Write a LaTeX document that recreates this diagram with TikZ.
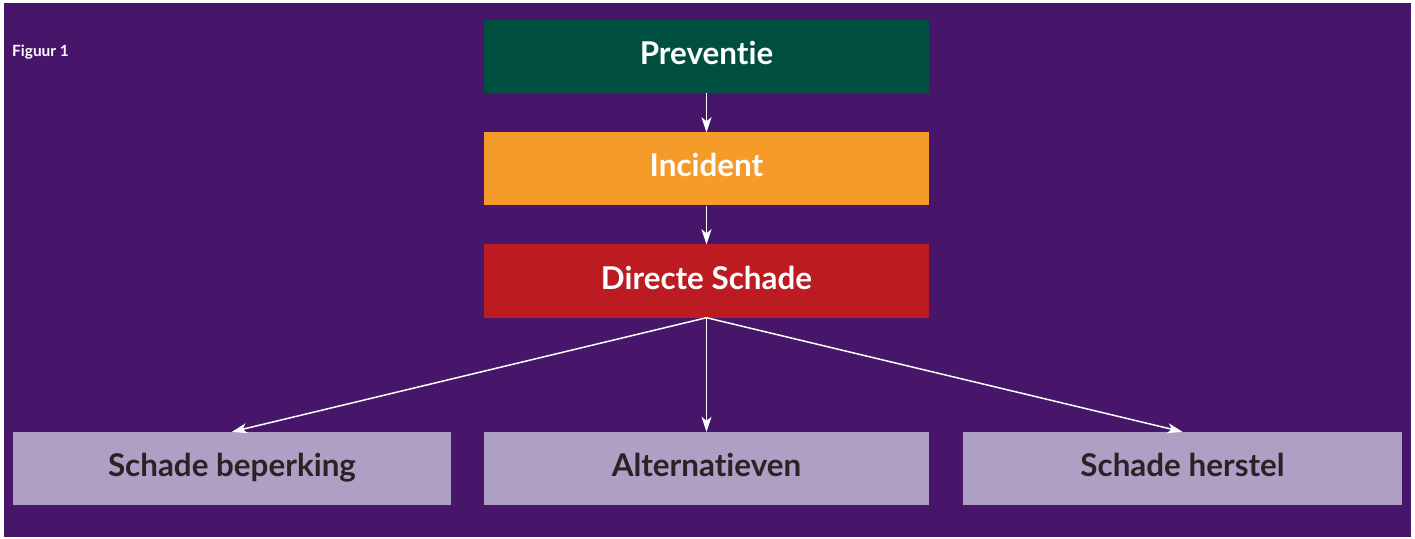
\documentclass[tikz,border=0pt]{standalone}
\usepackage{fontspec}
\setmainfont{Lato}[Ligatures=NoCommon]
\usetikzlibrary{arrows.meta}
\definecolor{bgpurple}{HTML}{47166A}
\definecolor{prevgreen}{HTML}{004F40}
\definecolor{incorange}{HTML}{F59B2A}
\definecolor{dirred}{HTML}{BB1B21}
\definecolor{lavender}{HTML}{AEA0C4}
\definecolor{darktext}{HTML}{2A2226}
\begin{document}
\begin{tikzpicture}[x=1bp,y=-1bp,
  boxbase/.style={minimum height=73bp,inner sep=0pt,text height=24bp,text depth=8bp,font=\fontsize{31.5}{36}\selectfont\bfseries},
  topbox/.style={boxbase,minimum width=445bp,text=white},
  botbox/.style={boxbase,fill=lavender,text=darktext},
  conn/.style={draw=white,line width=1.5bp,-{Stealth[length=15bp,width=10bp,inset=4bp]}}]
\useasboundingbox (0,0) rectangle (1415,539);
\fill[white] (0,0) rectangle (1415,539);
\fill[bgpurple] (4,3) rectangle (1411,537);
\node[anchor=base west,inner sep=0pt,text=white,font=\fontsize{15.5}{18}\selectfont\bfseries] (fig) at (12,57) {Figuur 1};
\node[topbox,fill=prevgreen] (prev) at (706.5,56.5) {Preventie};
\node[topbox,fill=incorange] (inc) at (706.5,169) {Incident};
\node[topbox,fill=dirred] (dir) at (706.5,281) {Directe Schade};
\node[botbox,minimum width=438bp] (bep) at (232,468.5) {Schade beperking};
\node[botbox,minimum width=445bp] (alt) at (706.5,468.5) {Alternatieven};
\node[botbox,minimum width=439bp] (her) at (1182.5,468.5) {Schade herstel};
\draw[conn] (prev.south) -- (inc.north);
\draw[conn] (inc.south) -- (dir.north);
\draw[conn] (dir.south) -- (alt.north);
\draw[conn] (dir.south) -- (bep.north);
\draw[conn] (dir.south) -- (her.north);
\end{tikzpicture}
\end{document}
